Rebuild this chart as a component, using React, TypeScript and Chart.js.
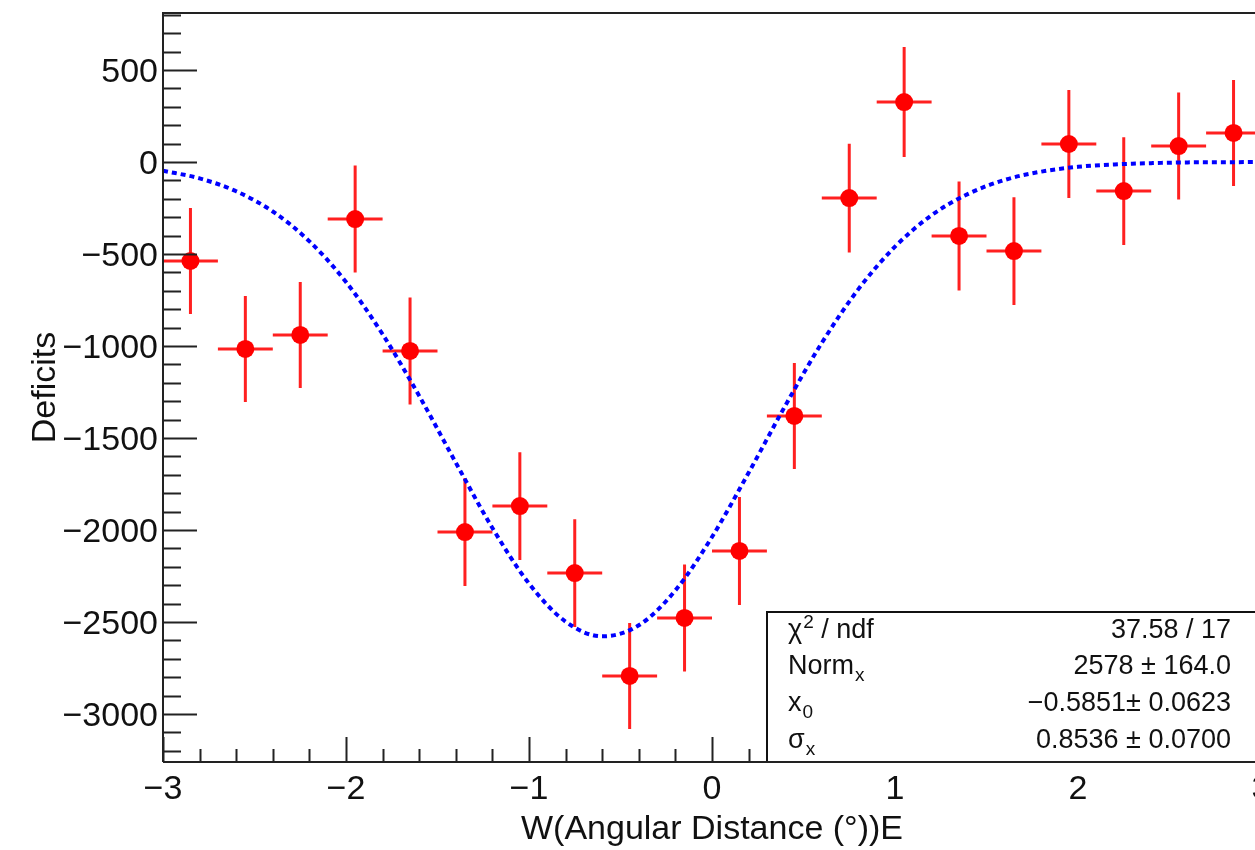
import { useEffect, useRef } from "react";
import { Chart, registerables } from "chart.js";

Chart.register(...registerables);

// ---- data ----
const binCenters = [-2.85, -2.55, -2.25, -1.95, -1.65, -1.35, -1.05, -0.75, -0.45, -0.15, 0.15, 0.45, 0.75, 1.05, 1.35, 1.65, 1.95, 2.25, 2.55, 2.85];
const deficits = [-538, -1016, -940, -310, -1027, -2011, -1870, -2234, -2793, -2478, -2114, -1380, -196, 326, -402, -484, 98, -158, 87, 158];
const deficitErrors = [288, 288, 288, 291, 291, 293, 293, 293, 288, 291, 293, 288, 296, 299, 296, 293, 293, 293, 291, 288];
const binHalfWidth = 0.15;

const fitX = [-3, -2.8, -2.6, -2.4, -2.2, -2, -1.8, -1.6, -1.4, -1.2, -1, -0.8, -0.6, -0.4, -0.2, 0, 0.2, 0.4, 0.6, 0.8, 1, 1.2, 1.4, 1.6, 1.8, 2, 2.2, 2.4, 2.6, 2.8, 3];
const fitY = [-47, -89, -159, -269, -431, -652, -936, -1271, -1634, -1989, -2291, -2498, -2578, -2518, -2328, -2038, -1689, -1325, -983, -691, -460, -289, -173, -97, -52, -26, -13, -6, -2, -1, 0];

const xTickValues = [-3, -2, -1, 0, 1, 2, 3];
const yTickValues = [-3000, -2500, -2000, -1500, -1000, -500, 0, 500];
const xMinorStep = 0.2;
const yMinorStep = 100;

const statsNames = [
  { base: "\u03C7", sup: "2", rest: " / ndf" },
  { base: "Norm", sub: "x" },
  { base: "x", sub: "0" },
  { base: "\u03C3", sub: "x" },
];
const statsValues = ["37.58 / 17", "2578 \u00B1 164.0", "\u22120.5851\u00B1 0.0623", "0.8536 \u00B1 0.0700"];

const xTitle = "W(Angular Distance (\u00B0))E";
const yTitle = "Deficits";

const FONT = '"Liberation Sans", Arial, Helvetica, sans-serif';

const fmt = (v: number) => (v < 0 ? "\u2212" + String(-v) : String(v));

function drawStatsBox(chart: any) {
  const ctx = chart.ctx;
  const area = chart.chartArea;
  const bx = 767;
  const by = 612;
  ctx.save();
  ctx.fillStyle = "#ffffff";
  ctx.fillRect(bx, by, area.right - bx, area.bottom - by);
  ctx.strokeStyle = "#111";
  ctx.lineWidth = 2;
  ctx.strokeRect(bx, by, area.right - bx, area.bottom - by);
  const fs = 27;
  const small = 19;
  const baselines = [638, 674, 711, 748];
  ctx.fillStyle = "#111";
  ctx.textBaseline = "alphabetic";
  statsNames.forEach((n: any, i) => {
    const y = baselines[i];
    let x = 788;
    ctx.textAlign = "left";
    ctx.font = `${fs}px ${FONT}`;
    ctx.fillText(n.base, x, y);
    x += ctx.measureText(n.base).width;
    if (n.sup) {
      ctx.font = `${small}px ${FONT}`;
      ctx.fillText(n.sup, x + 1, y - 10);
      x += ctx.measureText(n.sup).width + 1;
    }
    if (n.sub) {
      ctx.font = `${small}px ${FONT}`;
      ctx.fillText(n.sub, x + 1, y + 7);
      x += ctx.measureText(n.sub).width + 1;
    }
    if (n.rest) {
      ctx.font = `${fs}px ${FONT}`;
      ctx.fillText(n.rest, x, y);
    }
    ctx.font = `${fs}px ${FONT}`;
    ctx.textAlign = "right";
    ctx.fillText(statsValues[i], 1231, y);
  });
  ctx.restore();
}

const rootStyle = {
  id: "rootStyle",
  beforeDatasetsDraw(chart: any) {
    const ctx = chart.ctx;
    const xs = chart.scales.x;
    const ys = chart.scales.y;
    const area = chart.chartArea;
    ctx.save();
    ctx.beginPath();
    ctx.rect(area.left, area.top, area.right - area.left, area.bottom - area.top);
    ctx.clip();
    ctx.strokeStyle = "#ff2020";
    ctx.lineWidth = 3;
    binCenters.forEach((x, i) => {
      const px = xs.getPixelForValue(x);
      const py = ys.getPixelForValue(deficits[i]);
      ctx.beginPath();
      ctx.moveTo(xs.getPixelForValue(x - binHalfWidth), py);
      ctx.lineTo(xs.getPixelForValue(x + binHalfWidth), py);
      ctx.moveTo(px, ys.getPixelForValue(deficits[i] + deficitErrors[i]));
      ctx.lineTo(px, ys.getPixelForValue(deficits[i] - deficitErrors[i]));
      ctx.stroke();
    });
    ctx.restore();
  },
  afterDraw(chart: any) {
    const ctx = chart.ctx;
    const xs = chart.scales.x;
    const ys = chart.scales.y;
    const a = chart.chartArea;
    ctx.save();
    ctx.strokeStyle = "#222";
    ctx.lineWidth = 2;
    // y ticks
    ctx.beginPath();
    for (let v = Math.ceil(ys.min / yMinorStep) * yMinorStep; v <= ys.max; v += yMinorStep) {
      const py = Math.round(ys.getPixelForValue(v)) + 0.5;
      const major = yTickValues.includes(v);
      ctx.moveTo(a.left, py);
      ctx.lineTo(a.left + (major ? 34 : 18), py);
    }
    // x ticks
    const nx = Math.round((xs.max - xs.min) / xMinorStep);
    for (let k = 0; k <= nx; k++) {
      const v = +(xs.min + k * xMinorStep).toFixed(3);
      const px = Math.round(xs.getPixelForValue(v)) + 0.5;
      const major = xTickValues.includes(v);
      ctx.moveTo(px, a.bottom);
      ctx.lineTo(px, a.bottom - (major ? 25 : 13));
    }
    ctx.stroke();
    ctx.restore();

    // stats box covers the ticks beneath it
    drawStatsBox(chart);

    ctx.save();
    ctx.strokeStyle = "#222";
    ctx.lineWidth = 2;
    // frame
    ctx.beginPath();
    ctx.moveTo(a.left, a.bottom);
    ctx.lineTo(a.left, a.top);
    ctx.lineTo(a.right, a.top);
    ctx.lineTo(a.right, a.bottom);
    ctx.lineTo(a.left, a.bottom);
    ctx.stroke();
    // labels
    ctx.fillStyle = "#111";
    ctx.font = `34px ${FONT}`;
    ctx.textBaseline = "alphabetic";
    ctx.textAlign = "right";
    yTickValues.forEach((v) => {
      ctx.fillText(fmt(v), a.left - 5, ys.getPixelForValue(v) + 12);
    });
    ctx.textAlign = "center";
    xTickValues.forEach((v) => {
      ctx.fillText(fmt(v), xs.getPixelForValue(v), 799);
    });
    // titles
    ctx.fillText(xTitle, (a.left + a.right) / 2, 839);
    ctx.save();
    ctx.translate(55, (a.top + a.bottom) / 2);
    ctx.rotate(-Math.PI / 2);
    ctx.textAlign = "center";
    ctx.fillText(yTitle, 0, 0);
    ctx.restore();
    ctx.restore();
  },
};

export default function App() {
  const ref = useRef<HTMLCanvasElement | null>(null);
  useEffect(() => {
    if (!ref.current) return;
    const chart = new Chart(ref.current, {
      type: "scatter",
      data: {
        datasets: [
          {
            type: "line",
            label: "fit",
            data: fitX.map((x, i) => ({ x, y: fitY[i] })),
            borderColor: "#0000ff",
            borderWidth: 4,
            borderDash: [5, 4],
            pointRadius: 0,
            fill: false,
            cubicInterpolationMode: "monotone",
            order: 0,
          },
          {
            label: "Deficits",
            data: binCenters.map((x, i) => ({ x, y: deficits[i] })),
            backgroundColor: "#ff0000",
            borderColor: "#ff0000",
            pointRadius: 9,
            pointBorderWidth: 0,
            order: 1,
          },
        ],
      } as any,
      options: {
        responsive: false,
        animation: false,
        devicePixelRatio: 1,
        layout: { padding: { left: 163, top: 13, right: 19, bottom: 88 } },
        plugins: { legend: { display: false }, tooltip: { enabled: false } },
        scales: {
          x: { type: "linear", min: -3, max: 3, display: false },
          y: { type: "linear", min: -3261, max: 810, display: false },
        },
      } as any,
      plugins: [rootStyle],
    });
    return () => chart.destroy();
  }, []);
  return (
    <div style={{ position: "fixed", left: 0, top: 0, width: 1255, height: 850, overflow: "hidden", background: "#fff" }}>
      <canvas ref={ref} width={1280} height={850} style={{ display: "block", width: 1280, height: 850 }} />
    </div>
  );
}
